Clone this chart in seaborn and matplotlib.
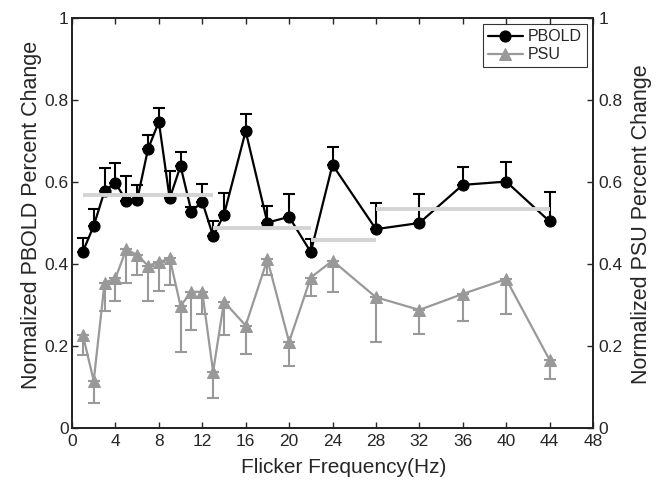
import matplotlib
matplotlib.use("Agg")
import matplotlib.pyplot as plt
import seaborn as sns
import pandas as pd
import numpy as np

freq = [1, 2, 3, 4, 5, 6, 7, 8, 9, 10, 11, 12, 13, 14, 16, 18, 20, 22, 24, 28, 32, 36, 40, 44]
pbold = [0.430, 0.493, 0.578, 0.598, 0.554, 0.556, 0.680, 0.747, 0.560, 0.639, 0.528, 0.552,
         0.468, 0.520, 0.724, 0.501, 0.515, 0.429, 0.642, 0.485, 0.500, 0.593, 0.601, 0.504]
pbold_err = [0.034, 0.040, 0.055, 0.048, 0.060, 0.037, 0.035, 0.034, 0.068, 0.035, 0.012, 0.043,
             0.038, 0.052, 0.041, 0.040, 0.055, 0.031, 0.043, 0.063, 0.070, 0.043, 0.049, 0.072]
psu = [0.227, 0.115, 0.354, 0.365, 0.436, 0.422, 0.396, 0.404, 0.414, 0.298, 0.332, 0.332,
       0.137, 0.308, 0.250, 0.411, 0.210, 0.367, 0.408, 0.319, 0.288, 0.327, 0.363, 0.166]
psu_err = [0.049, 0.053, 0.068, 0.055, 0.082, 0.049, 0.086, 0.070, 0.065, 0.112, 0.093, 0.055,
           0.065, 0.081, 0.070, 0.038, 0.058, 0.045, 0.076, 0.109, 0.059, 0.066, 0.085, 0.047]

seg_start = [1, 13, 22, 28]
seg_end = [13, 22, 28, 44]
seg_level = [0.568, 0.487, 0.459, 0.533]

xticks = list(range(0, 49, 4))
yticks = [0, 0.2, 0.4, 0.6, 0.8, 1]
ytick_labels = ["0", "0.2", "0.4", "0.6", "0.8", "1"]

sns.set_style("white")
plt.rcParams["font.family"] = ["Liberation Sans", "DejaVu Sans"]

df = pd.DataFrame({"freq": freq, "pbold": pbold, "psu": psu})

fig = plt.figure(figsize=(6.61, 4.8), dpi=100)
ax = fig.add_axes([72 / 661, 52 / 480, (593 - 72) / 661, (428 - 18) / 480])

gray = "#999999"
ax.errorbar(freq, pbold, yerr=[np.zeros(len(pbold)), pbold_err], fmt="none",
            ecolor="black", elinewidth=1.5, capsize=4, capthick=1.5, zorder=2)
ax.errorbar(freq, psu, yerr=[psu_err, np.zeros(len(psu))], fmt="none",
            ecolor=gray, elinewidth=1.5, capsize=4, capthick=1.5, zorder=2)

sns.lineplot(data=df, x="freq", y="pbold", ax=ax, color="black", marker="o",
             markersize=8, markeredgecolor="black", linewidth=1.6, label="PBOLD", zorder=3)
sns.lineplot(data=df, x="freq", y="psu", ax=ax, color=gray, marker="^",
             markersize=9, markeredgecolor=gray, linewidth=1.6, label="PSU", zorder=3)

for s, e, l in zip(seg_start, seg_end, seg_level):
    ax.plot([s, e], [l, l], color="#d4d4d4", linewidth=2.8, zorder=4, solid_capstyle="butt")

ax.set_xlim(0, 48)
ax.set_ylim(0, 1)
ax.set_xticks(xticks)
ax.set_yticks(yticks)
ax.set_yticklabels(ytick_labels)
ax.tick_params(direction="in", length=4, width=1, labelsize=12.5, top=True, bottom=True,
               left=True, right=False)
ax.tick_params(axis="x", pad=4)
ax.tick_params(axis="y", pad=2.5)
for sp in ax.spines.values():
    sp.set_linewidth(1.2)
    sp.set_color("black")
ax.set_xlabel("Flicker Frequency(Hz)", fontsize=15)
ax.set_ylabel("Normalized PBOLD Percent Change", fontsize=15.5)
ax.xaxis.set_label_coords(0.521, -0.073)
ax.yaxis.set_label_coords(-0.058, 0.52)

ax2 = ax.twinx()
ax2.set_ylim(0, 1)
ax2.set_yticks(yticks)
ax2.set_yticklabels(ytick_labels)
ax2.tick_params(direction="in", length=4, width=1, labelsize=12.5, right=True, pad=4)
ax2.set_ylabel("Normalized PSU Percent Change", fontsize=15.5)
ax2.yaxis.set_label_coords(1.073, 0.497)
for sp in ax2.spines.values():
    sp.set_linewidth(1.2)

leg = ax.legend(loc="upper right", fontsize=11.5, frameon=True, fancybox=False,
                edgecolor="black", handlelength=2.2, borderpad=0.3, labelspacing=0.2,
                handletextpad=0.3, borderaxespad=0.4)
leg.get_frame().set_linewidth(0.8)

fig.savefig("out.png", dpi=100)
